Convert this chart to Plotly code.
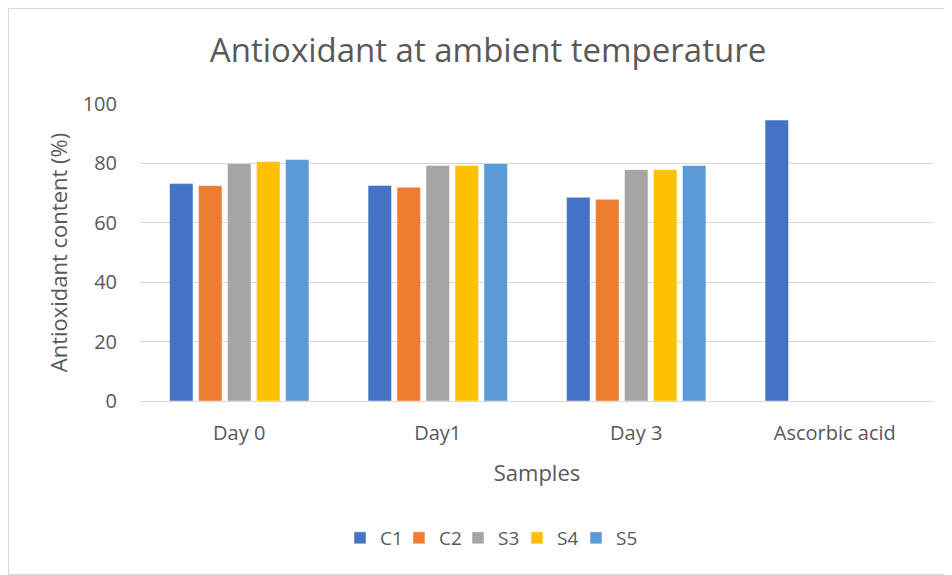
import plotly.graph_objects as go

categories = ["Day 0", "Day1", "Day 3", "Ascorbic acid"]
series_names = ["C1", "C2", "S3", "S4", "S5"]
c1 = [73.2, 72.6, 68.6, 94.6]
c2 = [72.5, 72.0, 67.9, None]
s3 = [80.0, 79.3, 77.9, None]
s4 = [80.6, 79.3, 77.9, None]
s5 = [81.3, 80.0, 79.3, None]
y_ticks = [0, 20, 40, 60, 80, 100]

colors = ["#4472C4", "#ED7D31", "#A5A5A5", "#FFC000", "#5B9BD5"]
font_family = "'Open Sans', sans-serif"
text_color = "#595959"

W, H = 944, 567
ML, MR, MT, MB = 132, 18, 96, 174
PW, PH = W - ML - MR, H - MT - MB

fig = go.Figure()
for name, vals, col in zip(series_names, [c1, c2, s3, s4, s5], colors):
    fig.add_trace(go.Bar(
        x=categories, y=vals, name=name,
        marker=dict(color=col, line=dict(color="rgba(255,255,255,0.6)", width=0.8)),
    ))
# invisible spacer so that the last legend label is not clipped
fig.add_trace(go.Scatter(x=[None], y=[None], mode="markers", name=" ",
                         marker=dict(color="rgba(0,0,0,0)"), hoverinfo="skip"))

fig.update_layout(
    width=W, height=H,
    margin=dict(l=ML, r=MR, t=MT, b=MB),
    paper_bgcolor="white", plot_bgcolor="white",
    barmode="group", bargap=0.27, bargroupgap=0.19,
    font=dict(family=font_family, color=text_color, size=18),
    title=dict(text="Antioxidant at ambient temperature", x=480 / W, xanchor="center",
               y=1 - 42 / H, yanchor="middle", yref="container",
               font=dict(size=33, color=text_color, family=font_family)),
    showlegend=True,
    legend=dict(orientation="h", x=(332 - ML) / PW, xanchor="left", y=(H - MB - 530) / PH,
                yanchor="middle", font=dict(size=19, color=text_color),
                entrywidth=14, entrywidthmode="pixels", traceorder="normal"),
    xaxis=dict(showgrid=False, showline=False, ticks="", ticklabelstandoff=18,
               tickfont=dict(size=20, color=text_color),
               title=dict(text="Samples", font=dict(size=22, color=text_color), standoff=20)),
    yaxis=dict(range=[0, 100], tickvals=y_ticks, showgrid=True, gridcolor="#D9D9D9", gridwidth=1,
               zeroline=True, zerolinecolor="#D9D9D9", zerolinewidth=1, showline=False,
               ticks="", ticklabelstandoff=22,
               tickfont=dict(size=20, color=text_color),
               title=dict(text="Antioxidant content (%)", font=dict(size=22, color=text_color), standoff=8)),
    shapes=[dict(type="rect", xref="paper", yref="paper",
                 x0=(0.5 - ML) / PW, x1=(W - 1 - ML) / PW,
                 y0=-(MB - 0.5) / PH, y1=1 + (MT - 0.5) / PH,
                 line=dict(color="#D9D9D9", width=1), fillcolor="rgba(0,0,0,0)", layer="below")],
)

fig.write_html("out.html")
